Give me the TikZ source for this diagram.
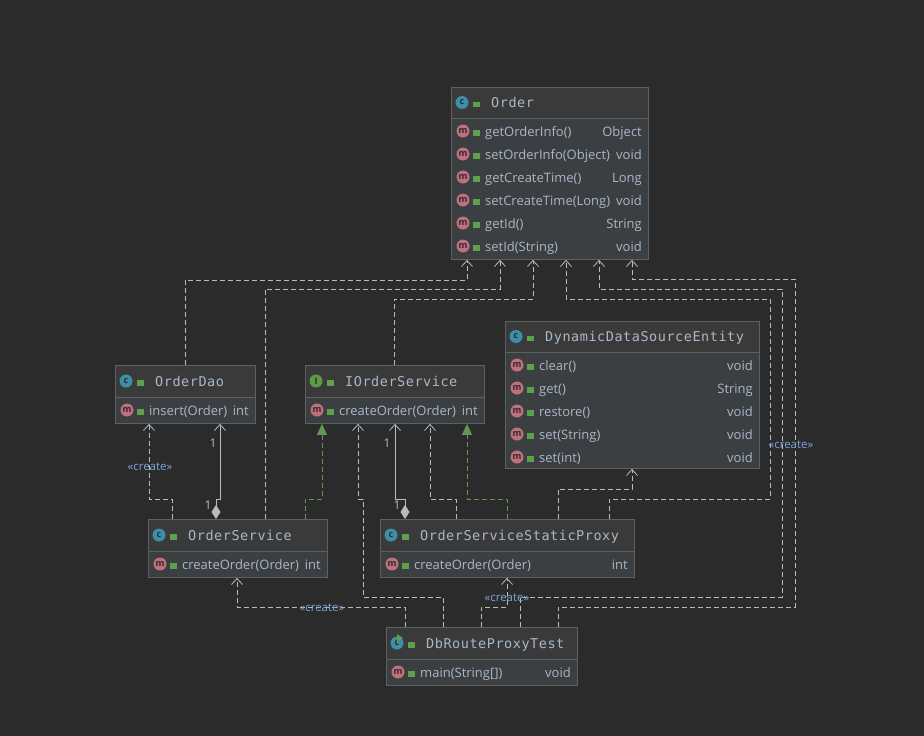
\documentclass[tikz,border=0pt]{standalone}
\usepackage{fontspec}
\setmainfont{Open Sans}
\newfontfamily\monof{DejaVu Sans Mono}[LetterSpace=4]
\usetikzlibrary{arrows.meta,calc}
\definecolor{bg}{HTML}{2B2B2B}
\definecolor{boxfill}{HTML}{3C3F41}
\definecolor{hdr}{HTML}{3A3A3A}
\definecolor{bord}{HTML}{5E6163}
\definecolor{txt}{HTML}{A9B7C6}
\definecolor{ln}{HTML}{BBBBBB}
\definecolor{grn}{HTML}{629755}
\definecolor{lbl}{HTML}{7EA7D8}
\definecolor{cteal}{HTML}{3D8EA8}
\definecolor{mpink}{HTML}{C0707C}
\definecolor{igrn}{HTML}{5C9A45}
\definecolor{lockg}{HTML}{5FA04E}
\tikzset{
 box/.style={draw=bord, fill=boxfill, line width=0.9pt, inner sep=0, anchor=north west},
 dep/.style={draw=ln, line width=0.8pt, dash pattern=on 5pt off 3pt, -{Straight Barb[length=6pt,width=11pt]}},
 assoc/.style={draw=ln, line width=0.8pt, {Diamond[length=14pt,width=9pt,fill=ln]}-{Straight Barb[length=6pt,width=11pt]}},
 impl/.style={draw=grn, line width=0.8pt, dash pattern=on 5pt off 3pt, -{Triangle[length=11pt,width=10pt,fill=grn]}},
 cre/.style={text=lbl, font=\fontsize{11.5}{11.5}\selectfont, inner sep=1pt},
 mult/.style={text=ln, font=\fontsize{12}{12}\selectfont, inner sep=1pt},
}
\newcommand\lockic[2]{%
 \draw[lockg, line width=1pt] ({#1-1.5},{#2-0.5}) arc[start angle=180,end angle=0,radius=2.2];
 \fill[lockg] ({#1-3},{#2-1}) rectangle ({#1+3.5},{#2+4.5});}
\newcommand\cic[4]{% x y letter color
 \fill[#4] ({#1},{#2}) circle (6.5);
 \node[text=bg, font=\fontsize{9}{9}\selectfont\bfseries, inner sep=0] at ({#1},{#2}) {#3};}
\newcommand\umlcls[9]{% name x1 y1 x2 y2 hdrbottom title letter color
 \node[box, minimum width={#4pt-#2pt}, minimum height={#5pt-#3pt}] (#1) at (#2,#3) {};
 \fill[hdr] ({#2+0.5},{#3+0.5}) rectangle ({#4-0.5},#6);
 \draw[bord, line width=0.9pt] (#2,#6) -- (#4,#6);
 \cic{#2+11}{(#3+#6)/2}{#8}{#9}
 \lockic{#2+25}{(#3+#6)/2}
 \node[anchor=base west, text=txt, font=\monof\fontsize{13.5}{13.5}\selectfont, inner sep=0] at ({#2+40},{(#3+#6)/2+5}) {#7};}
\newcommand\mrow[5]{% x1 x2 y name type
 \cic{#1+12}{#3}{m}{mpink}
 \lockic{#1+25}{#3}
 \node[anchor=base west, text=txt, font=\fontsize{13}{13}\selectfont, inner sep=0] at ({#1+34},{#3+5}) {#4};
 \node[anchor=base east, text=txt, font=\fontsize{13}{13}\selectfont, inner sep=0] at ({#2-6},{#3+5}) {#5};}
\begin{document}
\begin{tikzpicture}[x=1pt,y=-1pt]
\fill[bg] (0,0) rectangle (924,736);
\useasboundingbox (0,0) rectangle (924,736);
% boxes
\umlcls{order}{451}{87}{648}{259}{118}{Order}{c}{cteal}
\mrow{451}{648}{131}{getOrderInfo()}{Object}
\mrow{451}{648}{154}{setOrderInfo(Object)}{void}
\mrow{451}{648}{177}{getCreateTime()}{Long}
\mrow{451}{648}{200}{setCreateTime(Long)}{void}
\mrow{451}{648}{223}{getId()}{String}
\mrow{451}{648}{246}{setId(String)}{void}
\umlcls{dao}{115}{365}{255}{423}{397}{OrderDao}{c}{cteal}
\mrow{115}{255}{410}{insert(Order)}{int}
\umlcls{ios}{305}{365}{484}{423}{397}{IOrderService}{I}{igrn}
\mrow{305}{484}{410}{createOrder(Order)}{int}
\umlcls{dds}{505}{321}{759}{468}{352}{DynamicDataSourceEntity}{c}{cteal}
\mrow{505}{759}{365}{clear()}{void}
\mrow{505}{759}{388}{get()}{String}
\mrow{505}{759}{411}{restore()}{void}
\mrow{505}{759}{434}{set(String)}{void}
\mrow{505}{759}{457}{set(int)}{void}
\umlcls{os}{148}{519}{327}{577}{551}{OrderService}{c}{cteal}
\mrow{148}{327}{564}{createOrder(Order)}{int}
\umlcls{ossp}{380}{519}{634}{577}{551}{OrderServiceStaticProxy}{c}{cteal}
\mrow{380}{634}{564}{createOrder(Order)}{int}
\umlcls{test}{386}{627}{577}{685}{659}{DbRouteProxyTest}{c}{cteal}
\fill[lockg] (397,634) -- (403,638) -- (397,642) -- cycle;
\mrow{386}{577}{672}{main(String[])}{void}
% to Order
\draw[dep] (dao.north -| 185,0) |- (467,280) -- (order.south -| 467,0);
\draw[dep] (os.north -| 265,0) |- (500,289) -- (order.south -| 500,0);
\draw[dep] (ios.north -| 394,0) |- (533,299) -- (order.south -| 533,0);
\draw[dep] (ossp.north -| 609,0) |- (770,499) |- (566,299) -- (order.south -| 566,0);
\draw[dep] (test.north -| 520,0) |- (782,597) |- (599,289) -- (order.south -| 599,0);
\draw[dep] (test.north -| 558,0) |- (795,607) |- (632,279) -- (order.south -| 632,0);
\node[cre] at (791,445) {«create»};
% DDS
\draw[dep] (ossp.north -| 558,0) |- (632,489) -- (dds.south -| 632,0);
% OrderDao
\draw[dep] (os.north -| 172,0) |- (149,499) -- (dao.south -| 149,0);
\node[cre] at (150,467) {«create»};
\draw[assoc] (os.north -| 216,0) |- (220,499) -- (dao.south -| 220,0);
\node[mult] at (213,443) {1};
\node[mult] at (208,505) {1};
% IOrderService
\draw[impl] (os.north -| 305,0) |- (322,499) -- (ios.south -| 322,0);
\draw[assoc] (ossp.north -| 405,0) |- (395,499) -- (ios.south -| 395,0);
\node[mult] at (387,443) {1};
\node[mult] at (397,505) {1};
\draw[dep] (ossp.north -| 456,0) |- (430,499) -- (ios.south -| 430,0);
\draw[impl] (ossp.north -| 507,0) |- (467,499) -- (ios.south -| 467,0);
\draw[dep] (test.north -| 443,0) |- (363,597) |- (358,499) -- (ios.south -| 358,0);
% test to services
\draw[dep] (test.north -| 405,0) |- (237,607) -- (os.south -| 237,0);
\node[cre] at (322,608) {«create»};
\draw[dep] (test.north -| 481,0) |- (507,607) -- (ossp.south -| 507,0);
\node[cre] at (507,598) {«create»};
\end{tikzpicture}
\end{document}
